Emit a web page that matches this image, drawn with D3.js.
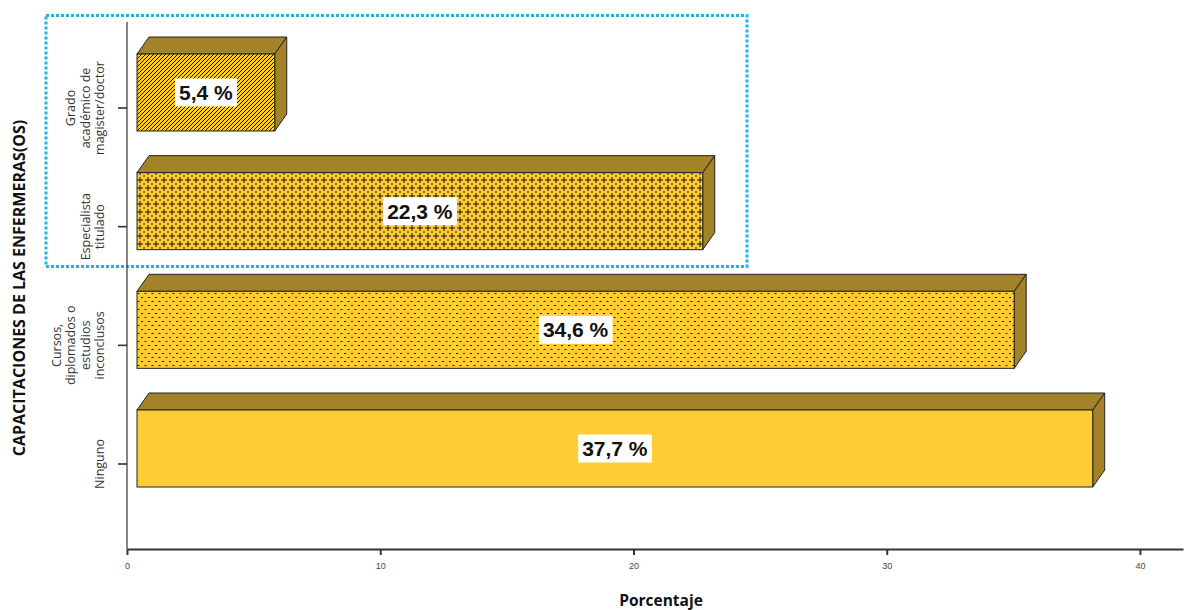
<!DOCTYPE html>
<html>
<head>
<meta charset="utf-8">
<script src="https://cdn.jsdelivr.net/npm/d3@7"></script>
<style>
  html, body { margin: 0; padding: 0; background: #fff; }
  svg { display: block; }
</style>
</head>
<body>
<svg id="chart" width="1184" height="610"></svg>
<script>
// Categories (top to bottom) and their percentages
const categories = [
  ["Grado", "académico de", "magister/doctor"],
  ["Especialista", "titulado"],
  ["Cursos,", "diplomados o", "estudios", "inconclusos"],
  ["Ninguno"]
];
const categoryKeys = ["grado", "especialista", "cursos", "ninguno"];
const values = [5.4, 22.3, 34.6, 37.7];
const valueLabels = ["5,4 %", "22,3 %", "34,6 %", "37,7 %"];
const fills = ["hatch", "plus", "dash", "solid"];
const xTicks = [0, 10, 20, 30, 40];

const FRONT = "#FFCC33";
const SIDE = "#A48328";
const EDGE = "#222";
const DX = 12, DY = 17;         // 3D depth offset
const SHIFT = 10;               // bars sit slightly right of the axis
const FRONT_TOP = -54, FRONT_H = 77;

const svg = d3.select("#chart");
const defs = svg.append("defs");

// Diagonal hatch
const pH = defs.append("pattern").attr("id", "hatch").attr("patternUnits", "userSpaceOnUse")
  .attr("width", 4).attr("height", 4);
pH.append("rect").attr("width", 4).attr("height", 4).attr("fill", FRONT);
pH.append("path").attr("d", "M-1,1 l2,-2 M0,4 l4,-4 M3,5 l2,-2")
  .attr("stroke", "#111").attr("stroke-width", 1);

// Plus signs
const pP = defs.append("pattern").attr("id", "plus").attr("patternUnits", "userSpaceOnUse")
  .attr("width", 8).attr("height", 8);
pP.append("rect").attr("width", 8).attr("height", 8).attr("fill", FRONT);
pP.append("path").attr("d", "M4,1 v6 M1,4 h6").attr("stroke", "#111").attr("stroke-width", 1);
[[0, 0], [8, 0], [0, 8], [8, 8]].forEach(([px, py]) =>
  pP.append("circle").attr("cx", px).attr("cy", py).attr("r", 1.2).attr("fill", "#9a7a22"));

// Small dashes
const pD = defs.append("pattern").attr("id", "dash").attr("patternUnits", "userSpaceOnUse")
  .attr("width", 7).attr("height", 8);
pD.append("rect").attr("width", 7).attr("height", 8).attr("fill", FRONT);
pD.append("rect").attr("x", 1).attr("y", 1).attr("width", 2).attr("height", 1).attr("fill", "#222");
pD.append("rect").attr("x", 4.5).attr("y", 5).attr("width", 2).attr("height", 1).attr("fill", "#222");

const x = d3.scaleLinear().domain([0, 41.7]).range([127, 1183]);
const y = d3.scalePoint().domain(categoryKeys).range([108, 464]);

// Highlight frame around the two upper categories
svg.append("rect")
  .attr("x", 46).attr("y", 15.5).attr("width", 701).attr("height", 251)
  .attr("fill", "none").attr("stroke", "#1FB3E6").attr("stroke-width", 3)
  .attr("stroke-dasharray", "3,2");

// Y axis
svg.append("line").attr("x1", 127).attr("x2", 127).attr("y1", 22).attr("y2", 549)
  .attr("stroke", "#444").attr("stroke-width", 1.3);
svg.selectAll(".ytick").data(categoryKeys).join("line")
  .attr("x1", 118).attr("x2", 127)
  .attr("y1", d => y(d)).attr("y2", d => y(d))
  .attr("stroke", "#333").attr("stroke-width", 1.6);

// X axis
const xAxis = d3.axisBottom(x).tickValues(xTicks).tickSize(6).tickPadding(8).tickSizeOuter(0);
const gx = svg.append("g").attr("transform", "translate(0,549)").call(xAxis);
gx.select(".domain").attr("stroke", "#333").attr("stroke-width", 2);
gx.selectAll(".tick line").attr("stroke", "#333").attr("stroke-width", 2);
gx.selectAll(".tick text").attr("font-family", "Liberation Sans, Arial, sans-serif")
  .attr("font-size", 9).attr("fill", "#444");

// 3D bars
const bars = svg.selectAll(".bar").data(values).join("g").attr("class", "bar");
bars.each(function (v, i) {
  const g = d3.select(this);
  const x0 = x(0) + SHIFT, x1 = x(v) + SHIFT + 1;
  const yt = y(categoryKeys[i]) + FRONT_TOP, yb = yt + FRONT_H;
  // top face
  g.append("path")
    .attr("d", `M${x0},${yt} L${x0 + DX},${yt - DY} L${x1 + DX},${yt - DY} L${x1},${yt} Z`)
    .attr("fill", SIDE).attr("stroke", EDGE).attr("stroke-width", 1);
  // side face
  g.append("path")
    .attr("d", `M${x1},${yt} L${x1 + DX},${yt - DY} L${x1 + DX},${yb - DY} L${x1},${yb} Z`)
    .attr("fill", SIDE).attr("stroke", EDGE).attr("stroke-width", 1);
  // front face
  g.append("rect")
    .attr("x", x0).attr("y", yt).attr("width", x1 - x0).attr("height", FRONT_H)
    .attr("fill", fills[i] === "solid" ? FRONT : `url(#${fills[i]})`)
    .attr("stroke", EDGE).attr("stroke-width", 1);

  // value label in a white box
  const cx = (x0 + x1) / 2, cy = yt + FRONT_H / 2;
  const lbl = g.append("g");
  const t = lbl.append("text")
    .attr("x", cx).attr("y", cy + 7.5)
    .attr("text-anchor", "middle")
    .attr("font-family", "Liberation Sans, Arial, sans-serif")
    .attr("font-weight", "bold").attr("font-size", 21).attr("fill", "#111")
    .text(valueLabels[i]);
  const bb = t.node().getBBox();
  lbl.insert("rect", "text")
    .attr("x", bb.x - 4).attr("y", cy - 14).attr("width", bb.width + 8).attr("height", 28)
    .attr("fill", "#fff");
});

// Category labels (rotated, multi-line)
categories.forEach((lines, i) => {
  const cy = y(categoryKeys[i]);
  const n = lines.length;
  lines.forEach((line, j) => {
    const bx = 104 - (n - 1 - j) * 14.5;
    svg.append("text")
      .attr("transform", `translate(${bx},${cy}) rotate(-90)`)
      .attr("text-anchor", "middle")
      .attr("font-family", "Open Sans, sans-serif")
      .attr("font-size", 12.5).attr("fill", "#333")
      .text(line);
  });
});

// Axis titles
svg.append("text")
  .attr("transform", "translate(25,288) rotate(-90)")
  .attr("text-anchor", "middle")
  .attr("font-family", "Open Sans, sans-serif").attr("font-weight", "bold")
  .attr("font-size", 16).attr("fill", "#111")
  .text("CAPACITACIONES DE LAS ENFERMERAS(OS)");

svg.append("text")
  .attr("x", 661).attr("y", 606)
  .attr("text-anchor", "middle")
  .attr("font-family", "Open Sans, sans-serif").attr("font-weight", "bold")
  .attr("font-size", 15.5).attr("fill", "#111")
  .text("Porcentaje");
</script>
</body>
</html>
